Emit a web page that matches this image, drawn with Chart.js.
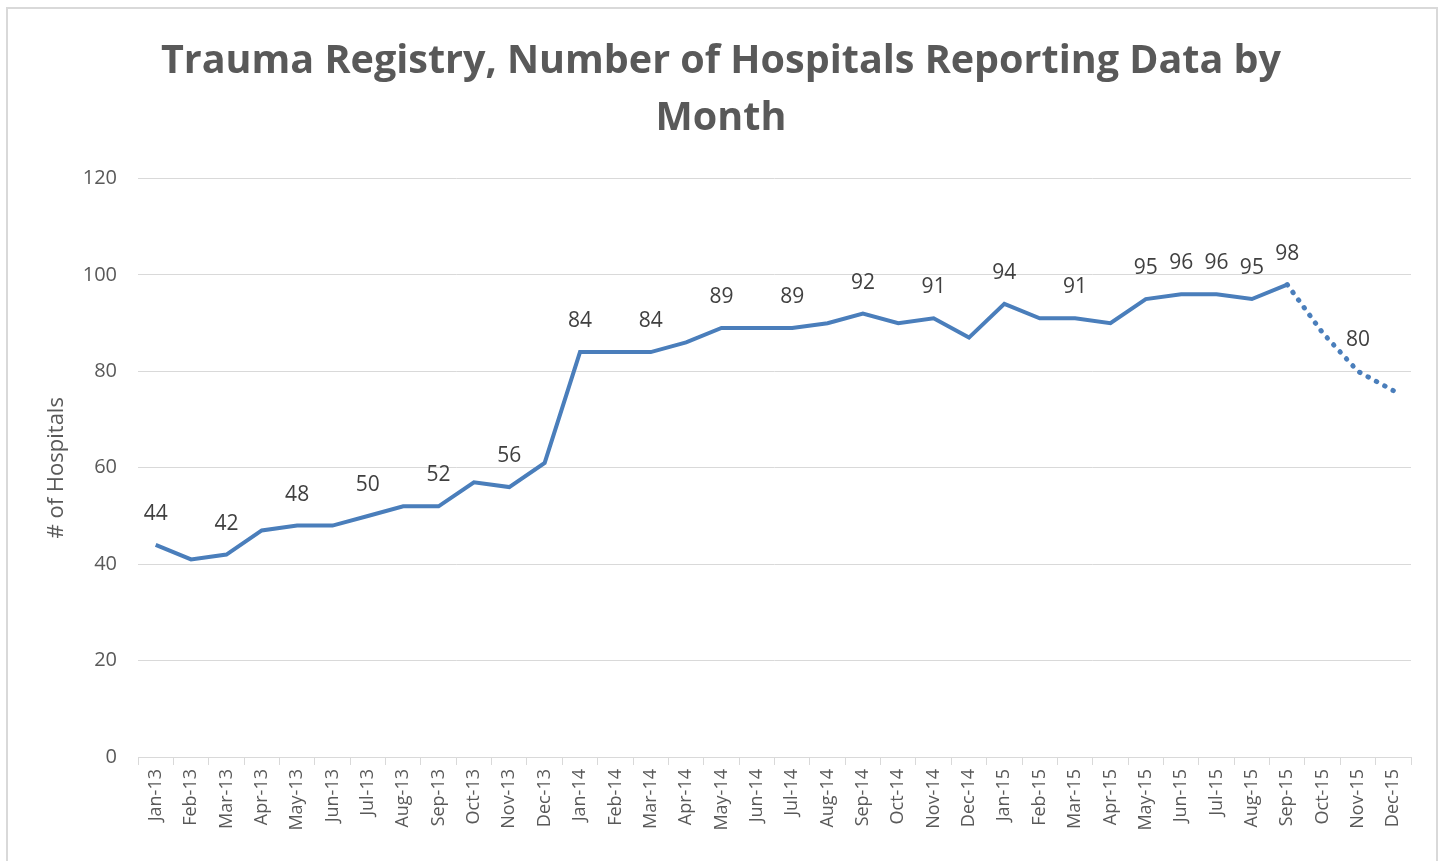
<!DOCTYPE html>
<html>
<head>
<meta charset="utf-8">
<script src="https://cdn.jsdelivr.net/npm/chart.js@4/dist/chart.umd.min.js"></script>
<style>
  html, body { margin: 0; padding: 0; background: #fff; overflow: hidden; }
  #frame { position: absolute; left: 6px; top: 7px; width: 1428px; height: 880px; border: 2px solid #d9d9d9; pointer-events: none; }
  #c { position: absolute; left: 0; top: 0; }
</style>
</head>
<body>
<canvas id="c" width="1442" height="861"></canvas>
<div id="frame"></div>
<script>
( function () {
    "use strict";

    var months = ['Jan-13','Feb-13','Mar-13','Apr-13','May-13','Jun-13','Jul-13','Aug-13','Sep-13','Oct-13','Nov-13','Dec-13',
                  'Jan-14','Feb-14','Mar-14','Apr-14','May-14','Jun-14','Jul-14','Aug-14','Sep-14','Oct-14','Nov-14','Dec-14',
                  'Jan-15','Feb-15','Mar-15','Apr-15','May-15','Jun-15','Jul-15','Aug-15','Sep-15','Oct-15','Nov-15','Dec-15'];

    // hospitals reporting (actual)
    var reported = [44,41,42,47,48,48,50,52,52,57,56,61,
                    84,84,84,86,89,89,89,90,92,90,91,87,
                    94,91,91,90,95,96,96,95,98,null,null,null];

    // projected months (dotted)
    var projected = [null,null,null,null,null,null,null,null,null,null,null,null,
                     null,null,null,null,null,null,null,null,null,null,null,null,
                     null,null,null,null,null,null,null,null,98,88,80,76];

    // months that carry a value label in the original
    var labelledReported = ['Jan-13','Mar-13','May-13','Jul-13','Sep-13','Nov-13','Jan-14','Mar-14','May-14','Jul-14',
                            'Sep-14','Nov-14','Jan-15','Mar-15','May-15','Jun-15','Jul-15','Aug-15','Sep-15'];
    var labelledProjected = ['Nov-15'];

    var yTicks = [0,20,40,60,80,100,120];

    var blue = 'rgb(74,126,187)';
    var grey = '#d9d9d9';
    var textGrey = '#595959';

    var valueLabels = {
        id: 'valueLabels',
        afterDatasetsDraw: function(chart) {
            var ctx = chart.ctx;
            var lists = [labelledReported, labelledProjected];
            ctx.save();
            ctx.font = '21px "Open Sans"';
            ctx.fillStyle = '#404040';
            ctx.textAlign = 'center';
            ctx.textBaseline = 'middle';
            chart.data.datasets.forEach(function(ds, i) {
                var meta = chart.getDatasetMeta(i);
                meta.data.forEach(function(pt, j) {
                    if (ds.data[j] == null) return;
                    if (lists[i].indexOf(months[j]) < 0) return;
                    ctx.fillText(String(ds.data[j]), pt.x, pt.y - 31);
                });
            });
            ctx.restore();
        }
    };

    var config = {
        type: 'line',
        data: {
            labels: months,
            datasets: [{
                label: 'Reported',
                data: reported,
                borderColor: blue,
                backgroundColor: blue,
                borderWidth: 4,
                pointRadius: 0,
                tension: 0,
                fill: false
            }, {
                label: 'Projected',
                data: projected,
                borderColor: blue,
                backgroundColor: blue,
                borderWidth: 5,
                borderDash: [0.5, 9],
                borderCapStyle: 'round',
                pointRadius: 0,
                tension: 0,
                fill: false
            }]
        },
        options: {
            responsive: false,
            animation: false,
            layout: { padding: 0 },
            plugins: {
                legend: { display: false },
                tooltip: { enabled: false },
                title: {
                    display: true,
                    text: ['Trauma Registry, Number of Hospitals Reporting Data by', 'Month'],
                    color: textGrey,
                    font: { family: 'Open Sans', size: 39.5, weight: 'bold', lineHeight: 1.45 },
                    padding: { top: 33, bottom: 31 }
                }
            },
            scales: {
                x: {
                    offset: true,
                    grid: { offset: true, drawOnChartArea: false, drawTicks: true, tickLength: 8, color: grey },
                    border: { color: grey, width: 1 },
                    ticks: {
                        color: textGrey,
                        font: { family: 'Open Sans', size: 18 },
                        minRotation: 90,
                        maxRotation: 90,
                        autoSkip: false,
                        padding: 4
                    },
                    afterFit: function(scale) { scale.height = 104; }
                },
                y: {
                    min: 0,
                    max: 120,
                    afterBuildTicks: function(scale) {
                        scale.ticks = yTicks.map(function(v) { return { value: v }; });
                    },
                    grid: { color: grey, drawTicks: false, lineWidth: 1 },
                    border: { display: false },
                    ticks: {
                        color: textGrey,
                        font: { family: 'Open Sans', size: 20 },
                        padding: 21
                    },
                    title: {
                        display: true,
                        text: '# of Hospitals',
                        color: textGrey,
                        font: { family: 'Open Sans', size: 22, lineHeight: 1.2 },
                        padding: { top: 44 }
                    },
                    afterFit: function(scale) { scale.width = 138; }
                },
                // empty right axis, only keeps the right margin
                yRight: {
                    position: 'right',
                    display: true,
                    grid: { display: false },
                    border: { display: false },
                    ticks: { display: false },
                    afterFit: function(scale) { scale.width = 31; }
                }
            }
        },
        plugins: [valueLabels]
    };

    var ctx = document.getElementById('c').getContext('2d');
    var trendChart = new Chart(ctx, config);
} () );
</script>
</body>
</html>
